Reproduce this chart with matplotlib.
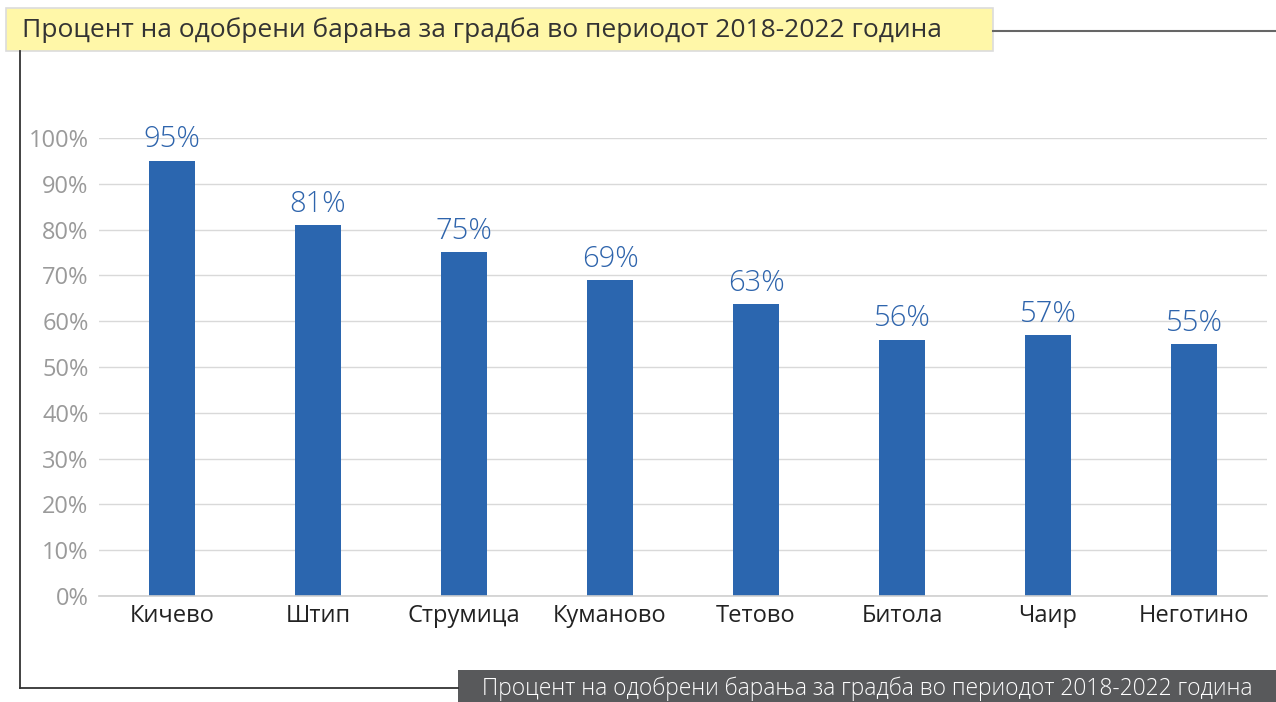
import matplotlib.pyplot as plt
from matplotlib.patches import Rectangle
from matplotlib.lines import Line2D
from matplotlib.ticker import FuncFormatter, MultipleLocator

W, H = 1276, 702

cities = ["Кичево", "Штип", "Струмица", "Куманово", "Тетово", "Битола", "Чаир", "Неготино"]
approved = [95, 81, 75, 69, 63.7, 56, 57, 55]
value_labels = ["95%", "81%", "75%", "69%", "63%", "56%", "57%", "55%"]

TITLE = "Процент на одобрени барања за градба во периодот 2018-2022 година"

BAR_COLOR = "#2B66AF"
LABEL_COLOR = "#2E64AC"
TICK_COLOR = "#9a9a9a"
GRID_COLOR = "#d9d9d9"

plt.rcParams["font.family"] = ["Open Sans", "DejaVu Sans"]


def fx(px):
    return px / W


def fy(py):
    return 1 - py / H


fig = plt.figure(figsize=(W / 100, H / 100), dpi=100)

# main plot area
ax = fig.add_axes([fx(99), fy(596), fx(1267) - fx(99), fy(138) - fy(596)])
x = range(len(cities))
ax.bar(x, approved, width=0.315, color=BAR_COLOR, zorder=3)
for xi, v, lab in zip(x, approved, value_labels):
    ax.text(xi, v + 1.4, lab, ha="center", va="bottom", fontsize=21,
            color=LABEL_COLOR, fontweight="light", clip_on=False)

ax.set_xlim(-0.5, len(cities) - 0.5)
ax.set_ylim(0, 100)
ax.yaxis.set_major_locator(MultipleLocator(10))
ax.yaxis.set_major_formatter(FuncFormatter(lambda v, p: f"{v:.0f}%"))
ax.set_xticks(list(x))
ax.set_xticklabels(cities)
ax.tick_params(axis="y", length=0, pad=7.5, labelsize=17, labelcolor=TICK_COLOR)
ax.tick_params(axis="x", length=0, pad=6, labelsize=17, labelcolor="#222222")
ax.grid(axis="y", color=GRID_COLOR, linewidth=1)
ax.set_axisbelow(True)
for s in ["top", "right", "left"]:
    ax.spines[s].set_visible(False)
ax.spines["bottom"].set_color("#cfcfcf")
ax.spines["bottom"].set_linewidth(1.2)
ax.spines["bottom"].set_zorder(4)

# frame lines
fig.add_artist(Line2D([fx(20), fx(20)], [fy(51), fy(688)], color="#333333", linewidth=1.3))
fig.add_artist(Line2D([fx(20), fx(458)], [fy(688), fy(688)], color="#333333", linewidth=1.3))
fig.add_artist(Line2D([fx(993), fx(1276)], [fy(31), fy(31)], color="#666666", linewidth=1.5))

# title box
fig.add_artist(Rectangle((fx(6), fy(51)), fx(993) - fx(6), fy(8) - fy(51),
                         facecolor="#FFF7A8", edgecolor="#dcdcdc", linewidth=1.2))
fig.text(fx(22), fy(30), TITLE, ha="left", va="center", fontsize=19, color="#333333")

# bottom caption box
fig.add_artist(Rectangle((fx(458), fy(702)), fx(1276) - fx(458), fy(670) - fy(702),
                         facecolor="#58595B", edgecolor="none"))
fig.text(fx(867), fy(689), TITLE, ha="center", va="center", fontsize=16.4,
         color="white", fontweight="light")

fig.savefig("out.png", dpi=100)
